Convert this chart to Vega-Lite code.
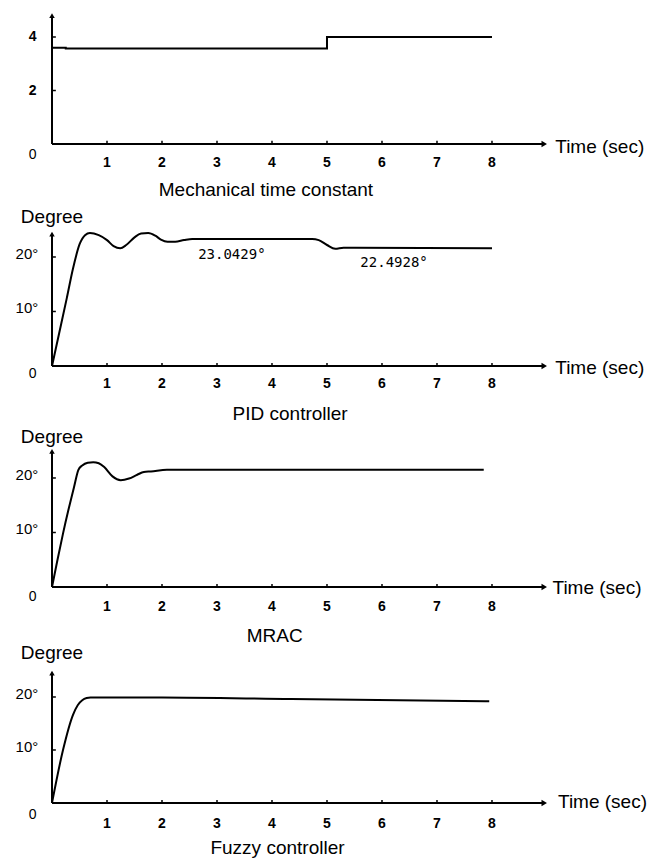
{
  "$schema": "https://vega.github.io/schema/vega-lite/v6.json",
  "padding": 0,
  "spacing": 0,
  "bounds": "flush",
  "background": "white",
  "config": {"view": {"stroke": null}, "axis": {"disable": true}},
  "datasets": {
    "mtc": [{"t": 0, "v": 3.6}, {"t": 0.25, "v": 3.57}, {"t": 5, "v": 4.0}, {"t": 8, "v": 4.0}],
    "pid": [
      {"t": 0, "v": 0}, {"t": 0.13, "v": 6.0}, {"t": 0.27, "v": 12.5}, {"t": 0.38, "v": 17.8},
      {"t": 0.5, "v": 22.3}, {"t": 0.6, "v": 24.0}, {"t": 0.69, "v": 24.4}, {"t": 0.85, "v": 24.0},
      {"t": 1.0, "v": 23.1}, {"t": 1.12, "v": 22.0}, {"t": 1.24, "v": 21.6}, {"t": 1.35, "v": 22.2},
      {"t": 1.5, "v": 23.6}, {"t": 1.62, "v": 24.3}, {"t": 1.75, "v": 24.4}, {"t": 1.88, "v": 23.9},
      {"t": 1.98, "v": 23.2}, {"t": 2.1, "v": 22.8}, {"t": 2.24, "v": 22.8}, {"t": 2.4, "v": 23.1},
      {"t": 2.55, "v": 23.3}, {"t": 3.5, "v": 23.3}, {"t": 4.73, "v": 23.3}, {"t": 4.85, "v": 23.1},
      {"t": 5.0, "v": 22.2}, {"t": 5.15, "v": 21.5}, {"t": 5.3, "v": 21.7}, {"t": 5.5, "v": 21.7},
      {"t": 8.0, "v": 21.6}
    ],
    "mrac": [
      {"t": 0, "v": 0}, {"t": 0.1, "v": 5.0}, {"t": 0.2, "v": 9.8}, {"t": 0.3, "v": 14.2},
      {"t": 0.4, "v": 18.3}, {"t": 0.48, "v": 21.5}, {"t": 0.55, "v": 22.3}, {"t": 0.65, "v": 22.8},
      {"t": 0.75, "v": 22.9}, {"t": 0.85, "v": 22.7}, {"t": 0.95, "v": 22.0}, {"t": 1.1, "v": 20.3},
      {"t": 1.25, "v": 19.6}, {"t": 1.4, "v": 19.9}, {"t": 1.55, "v": 20.6}, {"t": 1.67, "v": 21.1},
      {"t": 1.8, "v": 21.2}, {"t": 2.09, "v": 21.5}, {"t": 7.85, "v": 21.5}
    ],
    "fuzzy": [
      {"t": 0, "v": 0}, {"t": 0.2, "v": 10.0}, {"t": 0.38, "v": 16.6}, {"t": 0.47, "v": 18.5},
      {"t": 0.55, "v": 19.4}, {"t": 0.63, "v": 19.8}, {"t": 0.7, "v": 19.9}, {"t": 2.0, "v": 19.9},
      {"t": 4.35, "v": 19.6}, {"t": 7.95, "v": 19.2}
    ],
    "xticks": [{"t": 1}, {"t": 2}, {"t": 3}, {"t": 4}, {"t": 5}, {"t": 6}, {"t": 7}, {"t": 8}],
    "yt1": [{"v": 2, "label": "2"}, {"v": 4, "label": "4"}],
    "ytdeg": [{"v": 10, "label": "10°"}, {"v": 20, "label": "20°"}]
  },
  "vconcat": [
    {
      "width": 650, "height": 205,
      "layer": [
        {"data": {"name": "mtc"}, "mark": {"type": "line", "interpolate": "step-after", "color": "black", "strokeWidth": 2},
         "encoding": {"x": {"field": "t", "type": "quantitative", "scale": {"domain": [-0.9455, 10.873], "nice": false, "zero": false}, "axis": null},
                      "y": {"field": "v", "type": "quantitative", "scale": {"domain": [-2.28, 5.383], "nice": false, "zero": false}, "axis": null}}},
        {"data": {"values": [{}]}, "mark": {"type": "rule", "color": "black", "strokeWidth": 2},
         "encoding": {"x": {"datum": 0}, "x2": {"datum": 8.95}, "y": {"datum": 0}}},
        {"data": {"values": [{}]}, "mark": {"type": "point", "shape": "triangle-right", "filled": true, "color": "black", "size": 40, "opacity": 1},
         "encoding": {"x": {"datum": 8.95}, "y": {"datum": 0}}},
        {"data": {"values": [{}]}, "mark": {"type": "rule", "color": "black", "strokeWidth": 2},
         "encoding": {"x": {"datum": 0}, "y": {"datum": 0}, "y2": {"datum": 4.8}}},
        {"data": {"values": [{}]}, "mark": {"type": "point", "shape": "triangle-up", "filled": true, "color": "black", "size": 30, "opacity": 1},
         "encoding": {"x": {"datum": 0}, "y": {"datum": 4.8}}},
        {"data": {"name": "xticks"}, "mark": {"type": "rule", "color": "black", "strokeWidth": 1.5},
         "encoding": {"x": {"field": "t", "type": "quantitative"}, "y": {"datum": 0}, "y2": {"datum": 0.12}}},
        {"data": {"name": "xticks"}, "mark": {"type": "text", "font": "Liberation Sans Narrow, Liberation Sans", "fontWeight": "bold", "fontSize": 14, "color": "black", "dy": 19, "baseline": "middle"},
         "encoding": {"x": {"field": "t", "type": "quantitative"}, "y": {"datum": 0}, "text": {"field": "t"}}},
        {"data": {"name": "yt1"}, "mark": {"type": "rule", "color": "black", "strokeWidth": 1.5},
         "encoding": {"x": {"datum": 0}, "x2": {"datum": 0.07}, "y": {"field": "v", "type": "quantitative"}}},
        {"data": {"name": "yt1"}, "mark": {"type": "text", "font": "Liberation Sans Narrow, Liberation Sans", "fontWeight": "bold", "fontSize": 14, "color": "black", "baseline": "middle"},
         "encoding": {"x": {"datum": -0.35}, "y": {"field": "v", "type": "quantitative"}, "text": {"field": "label"}}},
        {"data": {"values": [{}]}, "mark": {"type": "text", "text": "0", "font": "Liberation Sans", "fontSize": 14, "color": "black", "dy": 11, "baseline": "middle"},
         "encoding": {"x": {"datum": -0.35}, "y": {"datum": 0}}},
        {"data": {"values": [{}]}, "mark": {"type": "text", "text": "Time (sec)", "font": "Liberation Sans", "fontSize": 19, "color": "black", "dy": 3, "align": "left", "baseline": "middle"},
         "encoding": {"x": {"datum": 9.15}, "y": {"datum": 0}}},
        {"data": {"values": [{}]}, "mark": {"type": "text", "text": "Mechanical time constant", "font": "Liberation Sans", "fontSize": 19, "color": "black", "baseline": "middle"},
         "encoding": {"x": {"datum": 3.89}, "y": {"datum": -1.72}}}
      ]
    },
    {
      "width": 650, "height": 220,
      "layer": [
        {"data": {"name": "pid"}, "mark": {"type": "line", "interpolate": "monotone", "color": "black", "strokeWidth": 2},
         "encoding": {"x": {"field": "t", "type": "quantitative", "scale": {"domain": [-0.9455, 10.873], "nice": false, "zero": false}, "axis": null},
                      "y": {"field": "v", "type": "quantitative", "scale": {"domain": [-10.83, 29.54], "nice": false, "zero": false}, "axis": null}}},
        {"data": {"values": [{}]}, "mark": {"type": "rule", "color": "black", "strokeWidth": 2},
         "encoding": {"x": {"datum": 0}, "x2": {"datum": 8.95}, "y": {"datum": 0}}},
        {"data": {"values": [{}]}, "mark": {"type": "point", "shape": "triangle-right", "filled": true, "color": "black", "size": 40, "opacity": 1},
         "encoding": {"x": {"datum": 8.95}, "y": {"datum": 0}}},
        {"data": {"values": [{}]}, "mark": {"type": "rule", "color": "black", "strokeWidth": 2},
         "encoding": {"x": {"datum": 0}, "y": {"datum": 0}, "y2": {"datum": 24.2}}},
        {"data": {"values": [{}]}, "mark": {"type": "point", "shape": "triangle-up", "filled": true, "color": "black", "size": 30, "opacity": 1},
         "encoding": {"x": {"datum": 0}, "y": {"datum": 24.2}}},
        {"data": {"name": "xticks"}, "mark": {"type": "rule", "color": "black", "strokeWidth": 1.5},
         "encoding": {"x": {"field": "t", "type": "quantitative"}, "y": {"datum": 0}, "y2": {"datum": 0.55}}},
        {"data": {"name": "xticks"}, "mark": {"type": "text", "font": "Liberation Sans Narrow, Liberation Sans", "fontWeight": "bold", "fontSize": 14, "color": "black", "dy": 18, "baseline": "middle"},
         "encoding": {"x": {"field": "t", "type": "quantitative"}, "y": {"datum": 0}, "text": {"field": "t"}}},
        {"data": {"name": "ytdeg"}, "mark": {"type": "rule", "color": "black", "strokeWidth": 1.5},
         "encoding": {"x": {"datum": 0}, "x2": {"datum": 0.07}, "y": {"field": "v", "type": "quantitative"}}},
        {"data": {"name": "ytdeg"}, "mark": {"type": "text", "font": "Liberation Sans", "fontSize": 15, "color": "black", "baseline": "middle", "align": "right", "dy": -3},
         "encoding": {"x": {"datum": -0.25}, "y": {"field": "v", "type": "quantitative"}, "text": {"field": "label"}}},
        {"data": {"values": [{}]}, "mark": {"type": "text", "text": "0", "font": "Liberation Sans", "fontSize": 14, "color": "black", "dy": 8, "baseline": "middle"},
         "encoding": {"x": {"datum": -0.35}, "y": {"datum": 0}}},
        {"data": {"values": [{}]}, "mark": {"type": "text", "text": "Time (sec)", "font": "Liberation Sans", "fontSize": 19, "color": "black", "dy": 2, "align": "left", "baseline": "middle"},
         "encoding": {"x": {"datum": 9.15}, "y": {"datum": 0}}},
        {"data": {"values": [{}]}, "mark": {"type": "text", "text": "Degree", "font": "Liberation Sans", "fontSize": 19, "color": "black", "baseline": "middle"},
         "encoding": {"x": {"datum": 0}, "y": {"datum": 27.3}}},
        {"data": {"values": [{}]}, "mark": {"type": "text", "text": "23.0429°", "font": "DejaVu Sans Mono", "fontSize": 14, "color": "black", "baseline": "middle"},
         "encoding": {"x": {"datum": 3.27}, "y": {"datum": 20.4}}},
        {"data": {"values": [{}]}, "mark": {"type": "text", "text": "22.4928°", "font": "DejaVu Sans Mono", "fontSize": 14, "color": "black", "baseline": "middle"},
         "encoding": {"x": {"datum": 6.22}, "y": {"datum": 18.9}}},
        {"data": {"values": [{}]}, "mark": {"type": "text", "text": "PID controller", "font": "Liberation Sans", "fontSize": 19, "color": "black", "baseline": "middle"},
         "encoding": {"x": {"datum": 4.33}, "y": {"datum": -8.8}}}
      ]
    },
    {
      "width": 650, "height": 220,
      "layer": [
        {"data": {"name": "mrac"}, "mark": {"type": "line", "interpolate": "monotone", "color": "black", "strokeWidth": 2},
         "encoding": {"x": {"field": "t", "type": "quantitative", "scale": {"domain": [-0.9455, 10.873], "nice": false, "zero": false}, "axis": null},
                      "y": {"field": "v", "type": "quantitative", "scale": {"domain": [-10.64, 29.72], "nice": false, "zero": false}, "axis": null}}},
        {"data": {"values": [{}]}, "mark": {"type": "rule", "color": "black", "strokeWidth": 2},
         "encoding": {"x": {"datum": 0}, "x2": {"datum": 8.95}, "y": {"datum": 0}}},
        {"data": {"values": [{}]}, "mark": {"type": "point", "shape": "triangle-right", "filled": true, "color": "black", "size": 40, "opacity": 1},
         "encoding": {"x": {"datum": 8.95}, "y": {"datum": 0}}},
        {"data": {"values": [{}]}, "mark": {"type": "rule", "color": "black", "strokeWidth": 2},
         "encoding": {"x": {"datum": 0}, "y": {"datum": 0}, "y2": {"datum": 24.9}}},
        {"data": {"values": [{}]}, "mark": {"type": "point", "shape": "triangle-up", "filled": true, "color": "black", "size": 30, "opacity": 1},
         "encoding": {"x": {"datum": 0}, "y": {"datum": 24.9}}},
        {"data": {"name": "xticks"}, "mark": {"type": "rule", "color": "black", "strokeWidth": 1.5},
         "encoding": {"x": {"field": "t", "type": "quantitative"}, "y": {"datum": 0}, "y2": {"datum": 0.55}}},
        {"data": {"name": "xticks"}, "mark": {"type": "text", "font": "Liberation Sans Narrow, Liberation Sans", "fontWeight": "bold", "fontSize": 14, "color": "black", "dy": 20, "baseline": "middle"},
         "encoding": {"x": {"field": "t", "type": "quantitative"}, "y": {"datum": 0}, "text": {"field": "t"}}},
        {"data": {"name": "ytdeg"}, "mark": {"type": "rule", "color": "black", "strokeWidth": 1.5},
         "encoding": {"x": {"datum": 0}, "x2": {"datum": 0.07}, "y": {"field": "v", "type": "quantitative"}}},
        {"data": {"name": "ytdeg"}, "mark": {"type": "text", "font": "Liberation Sans", "fontSize": 15, "color": "black", "baseline": "middle", "align": "right", "dy": -3},
         "encoding": {"x": {"datum": -0.25}, "y": {"field": "v", "type": "quantitative"}, "text": {"field": "label"}}},
        {"data": {"values": [{}]}, "mark": {"type": "text", "text": "0", "font": "Liberation Sans", "fontSize": 14, "color": "black", "dy": 10, "baseline": "middle"},
         "encoding": {"x": {"datum": -0.35}, "y": {"datum": 0}}},
        {"data": {"values": [{}]}, "mark": {"type": "text", "text": "Time (sec)", "font": "Liberation Sans", "fontSize": 19, "color": "black", "dy": 1, "align": "left", "baseline": "middle"},
         "encoding": {"x": {"datum": 9.1}, "y": {"datum": 0}}},
        {"data": {"values": [{}]}, "mark": {"type": "text", "text": "Degree", "font": "Liberation Sans", "fontSize": 19, "color": "black", "baseline": "middle"},
         "encoding": {"x": {"datum": 0}, "y": {"datum": 27.5}}},
        {"data": {"values": [{}]}, "mark": {"type": "text", "text": "MRAC", "font": "Liberation Sans", "fontSize": 19, "color": "black", "baseline": "middle"},
         "encoding": {"x": {"datum": 4.05}, "y": {"datum": -9.0}}}
      ]
    },
    {
      "width": 650, "height": 214,
      "layer": [
        {"data": {"name": "fuzzy"}, "mark": {"type": "line", "interpolate": "monotone", "color": "black", "strokeWidth": 2},
         "encoding": {"x": {"field": "t", "type": "quantitative", "scale": {"domain": [-0.9455, 10.873], "nice": false, "zero": false}, "axis": null},
                      "y": {"field": "v", "type": "quantitative", "scale": {"domain": [-10.57, 29.81], "nice": false, "zero": false}, "axis": null}}},
        {"data": {"values": [{}]}, "mark": {"type": "rule", "color": "black", "strokeWidth": 2},
         "encoding": {"x": {"datum": 0}, "x2": {"datum": 8.95}, "y": {"datum": 0}}},
        {"data": {"values": [{}]}, "mark": {"type": "point", "shape": "triangle-right", "filled": true, "color": "black", "size": 40, "opacity": 1},
         "encoding": {"x": {"datum": 8.95}, "y": {"datum": 0}}},
        {"data": {"values": [{}]}, "mark": {"type": "rule", "color": "black", "strokeWidth": 2},
         "encoding": {"x": {"datum": 0}, "y": {"datum": 0}, "y2": {"datum": 24.5}}},
        {"data": {"values": [{}]}, "mark": {"type": "point", "shape": "triangle-up", "filled": true, "color": "black", "size": 30, "opacity": 1},
         "encoding": {"x": {"datum": 0}, "y": {"datum": 24.5}}},
        {"data": {"name": "xticks"}, "mark": {"type": "rule", "color": "black", "strokeWidth": 1.5},
         "encoding": {"x": {"field": "t", "type": "quantitative"}, "y": {"datum": 0}, "y2": {"datum": 0.55}}},
        {"data": {"name": "xticks"}, "mark": {"type": "text", "font": "Liberation Sans Narrow, Liberation Sans", "fontWeight": "bold", "fontSize": 14, "color": "black", "dy": 21, "baseline": "middle"},
         "encoding": {"x": {"field": "t", "type": "quantitative"}, "y": {"datum": 0}, "text": {"field": "t"}}},
        {"data": {"name": "ytdeg"}, "mark": {"type": "rule", "color": "black", "strokeWidth": 1.5},
         "encoding": {"x": {"datum": 0}, "x2": {"datum": 0.07}, "y": {"field": "v", "type": "quantitative"}}},
        {"data": {"name": "ytdeg"}, "mark": {"type": "text", "font": "Liberation Sans", "fontSize": 15, "color": "black", "baseline": "middle", "align": "right", "dy": -3},
         "encoding": {"x": {"datum": -0.25}, "y": {"field": "v", "type": "quantitative"}, "text": {"field": "label"}}},
        {"data": {"values": [{}]}, "mark": {"type": "text", "text": "0", "font": "Liberation Sans", "fontSize": 14, "color": "black", "dy": 12, "baseline": "middle"},
         "encoding": {"x": {"datum": -0.35}, "y": {"datum": 0}}},
        {"data": {"values": [{}]}, "mark": {"type": "text", "text": "Time (sec)", "font": "Liberation Sans", "fontSize": 19, "color": "black", "dy": -1, "align": "left", "baseline": "middle"},
         "encoding": {"x": {"datum": 9.2}, "y": {"datum": 0}}},
        {"data": {"values": [{}]}, "mark": {"type": "text", "text": "Degree", "font": "Liberation Sans", "fontSize": 19, "color": "black", "baseline": "middle"},
         "encoding": {"x": {"datum": 0}, "y": {"datum": 28.3}}},
        {"data": {"values": [{}]}, "mark": {"type": "text", "text": "Fuzzy controller", "font": "Liberation Sans", "fontSize": 19, "color": "black", "baseline": "middle"},
         "encoding": {"x": {"datum": 4.1}, "y": {"datum": -8.5}}}
      ]
    }
  ]
}
